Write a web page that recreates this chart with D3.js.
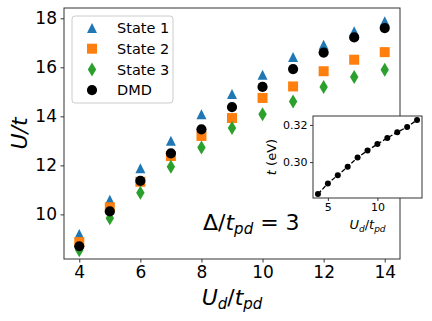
<!DOCTYPE html>
<html>
<head>
<meta charset="utf-8">
<script src="https://cdn.jsdelivr.net/npm/d3@7"></script>
<style>
  body { margin: 0; background: #fff; }
  svg { display: block; font-family: "DejaVu Sans", sans-serif; }
</style>
</head>
<body>
<div id="viz_container"></div>
<script>
//Data/////////////////////////////////////////////////////
const ud = [4, 5, 6, 7, 8, 9, 10, 11, 12, 13, 14];
const state1 = [9.2, 10.6, 11.88, 13.0, 14.09, 14.91, 15.7, 16.42, 16.92, 17.47, 17.88];
const state2 = [8.87, 10.29, 11.33, 12.38, 13.2, 13.93, 14.75, 15.22, 15.84, 16.31, 16.62];
const state3 = [8.54, 9.84, 10.88, 11.94, 12.73, 13.52, 14.09, 14.61, 15.2, 15.6, 15.9];
const dmd = [8.7, 10.12, 11.37, 12.49, 13.47, 14.38, 15.2, 15.93, 16.6, 17.22, 17.6];
const hopping = [0.2828, 0.2885, 0.293, 0.2975, 0.3025, 0.3062, 0.3097, 0.313, 0.3161, 0.3189, 0.3227];
const xTicks = [4, 6, 8, 10, 12, 14];
const yTicks = [10, 12, 14, 16, 18];
const insetXTicks = [5, 10];
const insetYTicks = [0.30, 0.32];

const W = 432, H = 321;
const svg = d3.select("#viz_container").append("svg")
  .attr("width", W).attr("height", H);

// main axes box
const box = {left: 64, right: 400, top: 8, bottom: 259};
const x = d3.scaleLinear().domain([3.5, 14.5]).range([box.left, box.right]);
const y = d3.scaleLinear().domain([8.18, 18.42]).range([box.bottom, box.top]);

// marker shapes (centered like matplotlib, ms ~ 10)
const shapes = {
  tri: "M0,-5L5,5L-5,5Z",
  sq: "M-5,-5H5V5H-5Z",
  dia: "M0,-7L4.2,0L0,7L-4.2,0Z"
};
const series = [
  {name: "State 1", vals: state1, color: "#1f77b4", shape: "tri"},
  {name: "State 2", vals: state2, color: "#ff7f0e", shape: "sq"},
  {name: "State 3", vals: state3, color: "#2ca02c", shape: "dia"},
  {name: "DMD", vals: dmd, color: "#000000", shape: "circle"}
];

function drawMarker(g, shape, color, r) {
  if (shape === "circle") {
    g.append("circle").attr("r", r || 5.1).attr("fill", color);
  } else {
    g.append("path").attr("d", shapes[shape]).attr("fill", color);
  }
}

// points
series.forEach(s => {
  const g = svg.append("g");
  s.vals.forEach((v, i) => {
    const m = g.append("g").attr("transform", `translate(${x(ud[i])},${y(v)})`);
    drawMarker(m, s.shape, s.color);
  });
});

// axes
const xAxis = svg.append("g")
  .attr("transform", `translate(0,${box.bottom})`)
  .call(d3.axisBottom(x).tickValues(xTicks).tickSize(3.5).tickPadding(3.5).tickSizeOuter(0));
const yAxis = svg.append("g")
  .attr("transform", `translate(${box.left},0)`)
  .call(d3.axisLeft(y).tickValues(yTicks).tickSize(3.5).tickPadding(3.5).tickSizeOuter(0));
[xAxis, yAxis].forEach(a => {
  a.select(".domain").remove();
  a.selectAll("text").style("font-size", "17px").attr("fill", "#000")
    .style("font-family", "'DejaVu Sans', sans-serif");
  a.selectAll("line").attr("stroke", "#000").attr("stroke-width", 0.8);
});

svg.append("rect")
  .attr("x", box.left).attr("y", box.top)
  .attr("width", box.right - box.left).attr("height", box.bottom - box.top)
  .attr("fill", "none").attr("stroke", "#333").attr("stroke-width", 1);

// axis labels
const xl = svg.append("text")
  .attr("x", (box.left + box.right) / 2).attr("y", 305)
  .attr("text-anchor", "middle").style("font-size", "22px");
xl.append("tspan").style("font-style", "italic").text("U");
xl.append("tspan").style("font-style", "italic").style("font-size", "15px").attr("dy", 4).text("d");
xl.append("tspan").attr("dy", -4).text("/");
xl.append("tspan").style("font-style", "italic").text("t");
xl.append("tspan").style("font-style", "italic").style("font-size", "15px").attr("dy", 4).text("pd");

svg.append("text")
  .attr("transform", `translate(27,${(box.top + box.bottom) / 2}) rotate(-90)`)
  .attr("text-anchor", "middle").style("font-size", "22px")
  .style("font-style", "italic").text("U/t");

// annotation
const ann = svg.append("text")
  .attr("x", 203).attr("y", 230).style("font-size", "22px");
ann.append("tspan").text("Δ/");
ann.append("tspan").style("font-style", "italic").text("t");
ann.append("tspan").style("font-style", "italic").style("font-size", "15px").attr("dy", 4).text("pd");
ann.append("tspan").attr("dy", -4).text(" = 3");

// legend
const leg = svg.append("g");
leg.append("rect")
  .attr("x", 72).attr("y", 16).attr("width", 101).attr("height", 87).attr("rx", 3)
  .attr("fill", "#fff").attr("fill-opacity", 0.8).attr("stroke", "#ccc").attr("stroke-width", 1);
series.forEach((s, i) => {
  const ry = 28 + i * 20.7;
  const m = leg.append("g").attr("transform", `translate(92,${ry})`);
  drawMarker(m, s.shape, s.color);
  leg.append("text").attr("x", 117).attr("y", ry).attr("dy", "0.36em")
    .style("font-size", "14.5px").text(s.name);
});

// inset
const ib = {left: 313, right: 422, top: 116, bottom: 198};
const ix = d3.scaleLinear().domain([3.5, 14.5]).range([ib.left, ib.right]);
const iy = d3.scaleLinear().domain([0.2807, 0.3248]).range([ib.bottom, ib.top]);
svg.append("rect")
  .attr("x", ib.left).attr("y", ib.top)
  .attr("width", ib.right - ib.left).attr("height", ib.bottom - ib.top)
  .attr("fill", "#fff");

svg.append("path")
  .datum(ud.map((u, i) => [u, hopping[i]]))
  .attr("d", d3.line().x(d => ix(d[0])).y(d => iy(d[1])))
  .attr("fill", "none").attr("stroke", "#000").attr("stroke-width", 1.3)
  .attr("stroke-dasharray", "4.5,2");
svg.append("g").selectAll("circle")
  .data(ud)
  .join("circle")
    .attr("cx", (u) => ix(u))
    .attr("cy", (u, i) => iy(hopping[i]))
    .attr("r", 3)
    .attr("fill", "#000");

const ixAxis = svg.append("g")
  .attr("transform", `translate(0,${ib.bottom})`)
  .call(d3.axisBottom(ix).tickValues(insetXTicks).tickSize(3).tickPadding(2.5).tickSizeOuter(0));
const iyAxis = svg.append("g")
  .attr("transform", `translate(${ib.left},0)`)
  .call(d3.axisLeft(iy).tickValues(insetYTicks).tickFormat(d3.format(".2f")).tickSize(3).tickPadding(2.5).tickSizeOuter(0));
[ixAxis, iyAxis].forEach(a => {
  a.select(".domain").remove();
  a.selectAll("text").style("font-size", "11px").attr("fill", "#000")
    .style("font-family", "'DejaVu Sans', sans-serif");
  a.selectAll("line").attr("stroke", "#000").attr("stroke-width", 0.8);
});
svg.append("rect")
  .attr("x", ib.left).attr("y", ib.top)
  .attr("width", ib.right - ib.left).attr("height", ib.bottom - ib.top)
  .attr("fill", "none").attr("stroke", "#333").attr("stroke-width", 1);

const ixl = svg.append("text")
  .attr("x", (ib.left + ib.right) / 2).attr("y", 229)
  .attr("text-anchor", "middle").style("font-size", "13px");
ixl.append("tspan").style("font-style", "italic").text("U");
ixl.append("tspan").style("font-style", "italic").style("font-size", "9px").attr("dy", 2.5).text("d");
ixl.append("tspan").attr("dy", -2.5).text("/");
ixl.append("tspan").style("font-style", "italic").text("t");
ixl.append("tspan").style("font-style", "italic").style("font-size", "9px").attr("dy", 2.5).text("pd");

const iyl = svg.append("text")
  .attr("transform", `translate(276,${(ib.top + ib.bottom) / 2}) rotate(-90)`)
  .attr("text-anchor", "middle").style("font-size", "13px");
iyl.append("tspan").style("font-style", "italic").text("t");
iyl.append("tspan").text(" (eV)");
</script>
</body>
</html>
